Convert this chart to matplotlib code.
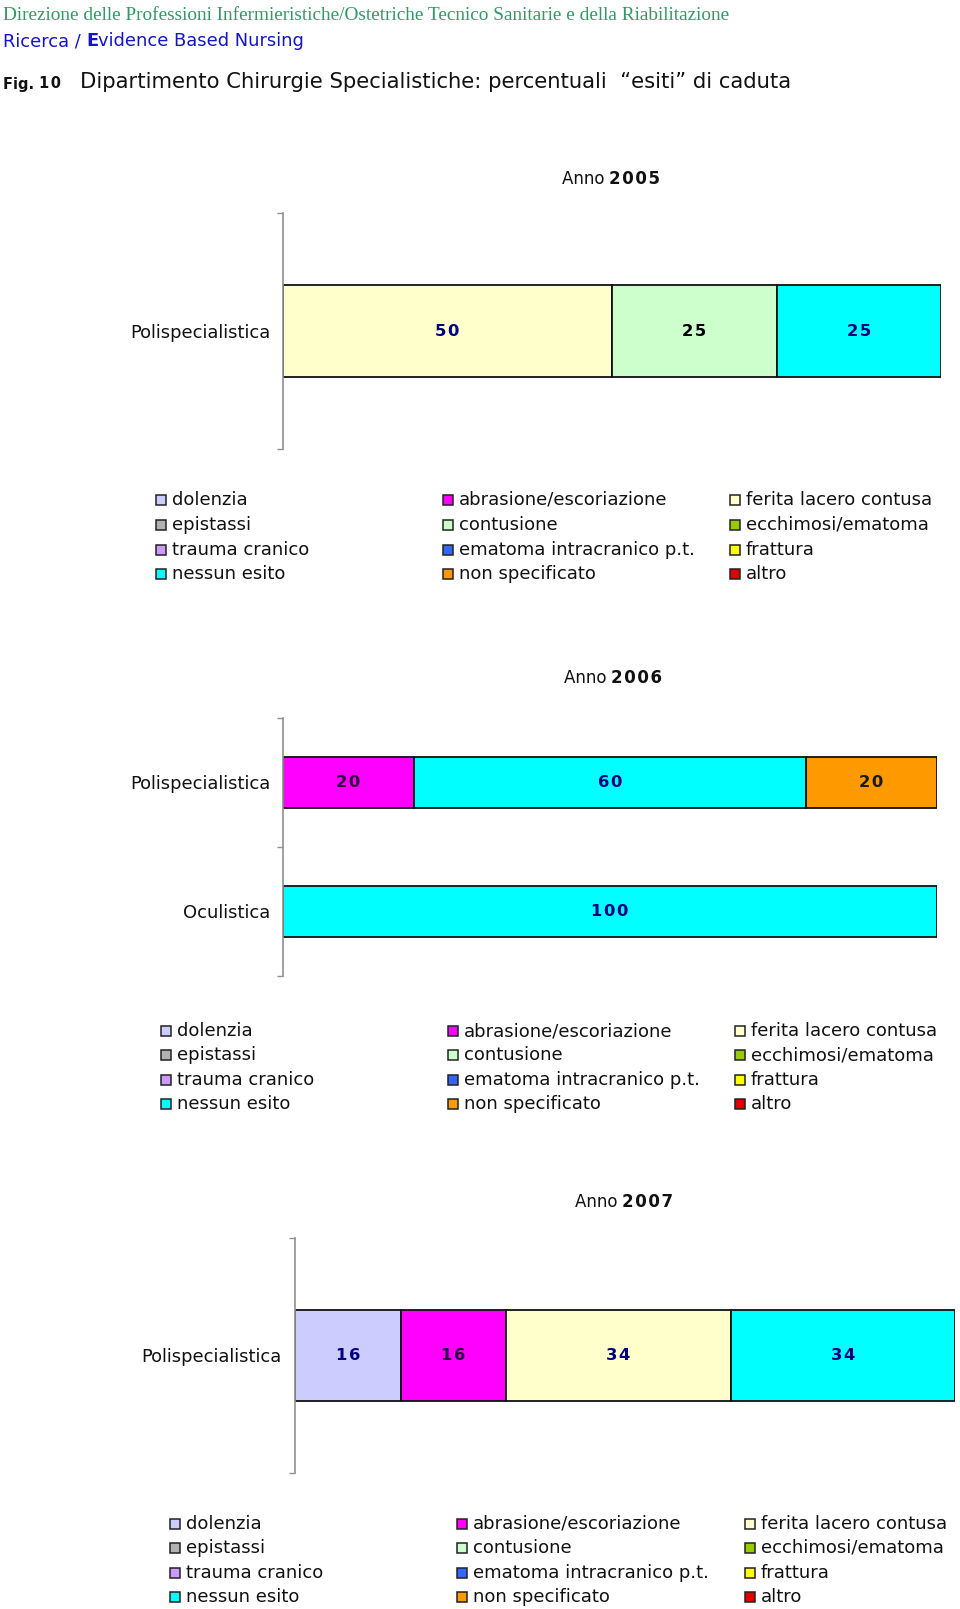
import matplotlib
matplotlib.use("Agg")
import matplotlib.pyplot as plt
from matplotlib.patches import Rectangle

W, H = 960, 1609

# serie (ordine della legenda, per righe)
esiti = [
    "dolenzia", "abrasione/escoriazione", "ferita lacero contusa",
    "epistassi", "contusione", "ecchimosi/ematoma",
    "trauma cranico", "ematoma intracranico p.t.", "frattura",
    "nessun esito", "non specificato", "altro",
]
colori = [
    "#CCCCFF", "#FF00FF", "#FFFFCC",
    "#B2B2B2", "#CCFFCC", "#99CC00",
    "#CC99FF", "#3366FF", "#FFFF00",
    "#00FFFF", "#FF9900", "#E00000",
]
colori_etichetta = [
    "#000080", "#2a0040", "#000080",
    "#000080", "#000000", "#000080",
    "#000080", "#000080", "#000080",
    "#000080", "#1a1a1a", "#000080",
]

reparti_2005 = ["Polispecialistica"]
valori_2005 = [[0, 0, 50, 0, 25, 0, 0, 0, 0, 25, 0, 0]]

reparti_2006 = ["Polispecialistica", "Oculistica"]
valori_2006 = [
    [0, 20, 0, 0, 0, 0, 0, 0, 0, 60, 20, 0],
    [0, 0, 0, 0, 0, 0, 0, 0, 0, 100, 0, 0],
]

reparti_2007 = ["Polispecialistica"]
valori_2007 = [[16, 16, 34, 0, 0, 0, 0, 0, 0, 34, 0, 0]]

plt.rcParams["font.family"] = ["DejaVu Sans"]

fig = plt.figure(figsize=(W / 100, H / 100), dpi=100)
renderer = fig.canvas.get_renderer()


def fx(x):
    return x / W


def fy(y):
    return 1 - y / H


def testo_a_pezzi(x, y, pezzi, ha="left"):
    """pezzi: list of (text, kwargs); drawn one after another on a line"""
    items = []
    cx = x
    for s, kw in pezzi:
        t = fig.text(fx(cx), fy(y), s, va="center", ha="left", **kw)
        ext = t.get_window_extent(renderer)
        cx += ext.width
        items.append(t)
    if ha == "center":
        shift = (cx - x) / 2
        for t in items:
            px, py = t.get_position()
            t.set_position((px - shift / W, py))


def spaziato(s):
    return "\u200a".join(s)


# intestazione
fig.text(fx(3), fy(15), "Direzione delle Professioni Infermieristiche/Ostetriche Tecnico Sanitarie e della Riabilitazione",
         family="Liberation Serif", fontsize=13.9, color="#2f9a62", va="center")
testo_a_pezzi(3, 41, [
    ("Ricerca / ", dict(fontsize=12.9, color="#1414c8")),
    ("E", dict(fontsize=12.9, color="#1414c8", fontweight="bold")),
    ("vidence Based Nursing", dict(fontsize=12.9, color="#1414c8")),
])
testo_a_pezzi(3, 84, [
    ("Fig. ", dict(fontsize=10.5, color="#111111", fontweight="bold")),
    (spaziato("10"), dict(fontsize=10.5, color="#111111", fontweight="bold")),
])
fig.text(fx(80), fy(82), "Dipartimento Chirurgie Specialistiche: percentuali  \u201cesiti\u201d di caduta",
         fontsize=15.25, color="#111111", va="center")


def grafico(anno, cx_titolo, y_titolo, box, reparti, valori, pad):
    testo_a_pezzi(cx_titolo, y_titolo, [
        ("Anno ", dict(fontsize=12, color="#111111")),
        (spaziato(anno), dict(fontsize=12, color="#111111", fontweight="bold")),
    ], ha="center")

    x0, y0, x1, y1 = box
    ax = fig.add_axes([fx(x0), fy(y1), (x1 - x0) / W, (y1 - y0) / H])
    n = len(reparti)
    left = [0] * n
    for j, nome in enumerate(esiti):
        for i in range(n):
            v = valori[i][j]
            if v == 0:
                continue
            ax.barh(i, v, left=left[i], height=0.39, color=colori[j],
                    edgecolor="#111111", linewidth=1.3, zorder=2)
            ax.text(left[i] + v / 2, i, spaziato(str(v)), ha="center", va="center",
                    fontsize=11.8, fontweight="bold", color=colori_etichetta[j], zorder=3)
            left[i] += v
    ax.set_xlim(0, 100)
    ax.set_ylim(n - 0.5, -0.5)
    ax.set_xticks([])
    ax.set_yticks(range(n))
    ax.set_yticklabels(reparti, fontsize=12.9, color="#111111")
    ax.tick_params(axis="y", which="major", length=0, pad=pad)
    ax.set_yticks([k - 0.5 for k in range(n + 1)], minor=True)
    ax.tick_params(axis="y", which="minor", length=4, color="#909090", width=1)
    for s in ("top", "right", "bottom"):
        ax.spines[s].set_visible(False)
    ax.spines["left"].set_color("#909090")
    ax.spines["left"].set_linewidth(1.2)
    ax.patch.set_alpha(0)
    return ax


def legenda(righe_y, colonne_x):
    for k, nome in enumerate(esiti):
        r, c = divmod(k, 3)
        x = colonne_x[c]
        y = righe_y[r]
        fig.add_artist(Rectangle((fx(x), fy(y + 5)), 10 / W, 10 / H, transform=fig.transFigure,
                                 facecolor=colori[k], edgecolor="#222222", linewidth=1.1))
        fig.text(fx(x + 16), fy(y), nome, fontsize=13, color="#111111", va="center")


grafico("2005", 611, 179, (283, 213, 941, 449), reparti_2005, valori_2005, 9)
legenda([500, 525, 550, 574], [156, 443, 730])

grafico("2006", 613, 678, (283, 718, 937, 976), reparti_2006, valori_2006, 9)
legenda([1031, 1055, 1080, 1104], [161, 448, 735])

grafico("2007", 624, 1202, (295, 1238, 955, 1473), reparti_2007, valori_2007, 10)
legenda([1524, 1548, 1573, 1597], [170, 457, 745])

fig.savefig("out.png", dpi=100)
